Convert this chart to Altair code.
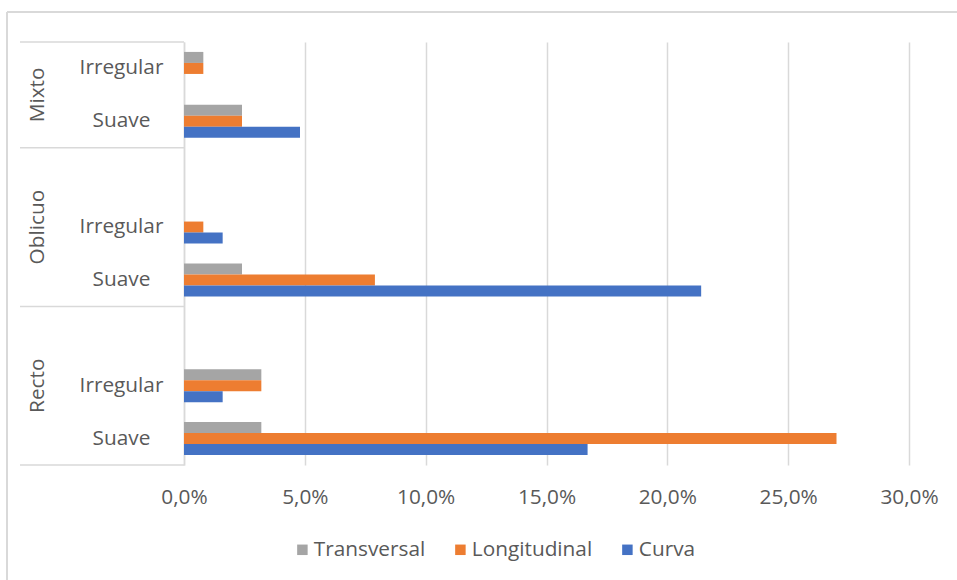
import altair as alt
import pandas as pd

# Category hierarchy (group / shape). Empty shape = spacer row inside a group.
groups = ["Mixto", "Mixto", "Oblicuo", "Oblicuo", "Oblicuo", "Recto", "Recto", "Recto"]
shapes = ["Irregular", "Suave", "", "Irregular", "Suave", "", "Irregular", "Suave"]

# Series (percent of cases)
series = ["Transversal", "Longitudinal", "Curva"]
transversal = [0.8, 2.4, None, 0.0, 2.4, None, 3.2, 3.2]
longitudinal = [0.8, 2.4, None, 0.8, 7.9, None, 3.2, 27.0]
curva = [0.0, 4.8, None, 1.6, 21.4, None, 1.6, 16.7]
colors = ["#A5A5A5", "#ED7D31", "#4472C4"]
x_ticks = [0, 5, 10, 15, 20, 25, 30]

FONT = "Open Sans"
TEXT = "#595959"
LINE = "#D9D9D9"
FS = 20.8

rows = [f"{g}|{s}" for g, s in zip(groups, shapes)]

records = []
for name, vals in zip(series, [transversal, longitudinal, curva]):
    for r, v in zip(rows, vals):
        if v is not None:
            records.append({"row": r, "serie": name, "pct": v})
bars_df = pd.DataFrame(records)

# group boundaries and label anchors
group_names = list(dict.fromkeys(groups))
first_rows = [rows[groups.index(g)] for g in group_names]
last_row = rows[-1]
label_rows = []
for g in group_names:
    members = [r for r, gg in zip(rows, groups) if gg == g]
    label_rows.append({"group": g, "row": members[(len(members) - 1) // 2], "even": len(members) % 2 == 0})
labels_df = pd.DataFrame(label_rows)

y_scale = alt.Scale(domain=rows, paddingInner=0, paddingOuter=0)

bars = alt.Chart(bars_df).mark_bar().encode(
    y=alt.Y("row:N", scale=y_scale, sort=rows, axis=alt.Axis(
        title=None, labelExpr="split(datum.value, '|')[1]", labelFont=FONT,
        labelFontSize=FS, labelColor=TEXT, labelAlign="center", labelPadding=63,
        ticks=False, tickSize=0, domain=True, domainColor=LINE, domainWidth=1.5,
        grid=False)),
    yOffset=alt.YOffset("serie:N", sort=series,
                        scale=alt.Scale(domain=series, paddingInner=0, paddingOuter=0.9)),
    x=alt.X("pct:Q", scale=alt.Scale(domain=[0, 30], nice=False), axis=alt.Axis(
        title=None, values=x_ticks,
        labelExpr="replace(format(datum.value, '.1f'), '.', ',') + '%'",
        labelFont=FONT, labelFontSize=FS, labelColor=TEXT, labelPadding=22,
        labelFlush=False, labelOverlap=False,
        ticks=False, domain=False, grid=True, gridColor=LINE, gridWidth=1.5)),
    color=alt.Color("serie:N", sort=series,
                    scale=alt.Scale(domain=series, range=colors),
                    legend=alt.Legend(
                        title=None, orient="none", direction="horizontal",
                        legendX=108, legendY=497, symbolType="square",
                        symbolSize=110, symbolStrokeWidth=0, labelFont=FONT,
                        labelFontSize=FS, labelColor=TEXT, labelOffset=1,
                        columnPadding=24)),
)

sep_top = alt.Chart(pd.DataFrame({"row": first_rows})).mark_rule(
    color=LINE, strokeWidth=1.5).encode(
    y=alt.Y("row:N", bandPosition=0),
    x=alt.value(-164), x2=alt.value(0))

sep_bottom = alt.Chart(pd.DataFrame({"row": [last_row]})).mark_rule(
    color=LINE, strokeWidth=1.5).encode(
    y=alt.Y("row:N", bandPosition=1),
    x=alt.value(-164), x2=alt.value(0))

group_text_style = dict(angle=270, align="center", baseline="middle",
                        font=FONT, fontSize=FS, color=TEXT)

group_even = alt.Chart(labels_df[labels_df["even"]]).mark_text(**group_text_style).encode(
    y=alt.Y("row:N", bandPosition=1), x=alt.value(-146), text="group:N")
group_odd = alt.Chart(labels_df[~labels_df["even"]]).mark_text(**group_text_style).encode(
    y=alt.Y("row:N", bandPosition=0.5), x=alt.value(-146), text="group:N")

# outer chart frame (top and left edges)
frame_top = alt.Chart(pd.DataFrame({"k": [0]})).mark_rule(color=LINE, strokeWidth=2).encode(
    x=alt.value(-177), x2=alt.value(780), y=alt.value(-30))
frame_left = alt.Chart(pd.DataFrame({"k": [0]})).mark_rule(color=LINE, strokeWidth=2).encode(
    x=alt.value(-177), y=alt.value(-30), y2=alt.value(560))

chart = alt.layer(bars, sep_top, sep_bottom, group_even, group_odd, frame_top, frame_left).properties(
    width=725, height=423,
    autosize=alt.AutoSizeParams(type="none"),
    padding={"left": 184, "top": 42, "right": 48, "bottom": 115},
    background="white",
).configure_view(stroke=None)

chart.save("out.html", embed_options={"renderer": "svg", "actions": False})
